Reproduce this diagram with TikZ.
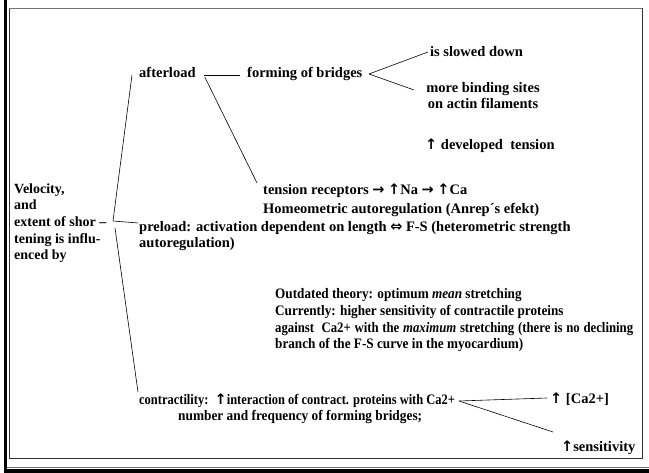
\documentclass[tikz,border=0pt]{standalone}
\usepackage{fontspec}
\setmainfont{Liberation Serif}
\newfontfamily\narrowserif[FakeStretch=0.91]{Liberation Serif}
\newfontfamily\narrowerserif[FakeStretch=0.88]{Liberation Serif}
\newfontfamily\contrserif[FakeStretch=0.86]{Liberation Serif}
\newfontfamily\semiserif[FakeStretch=0.92]{Liberation Serif}
\newfontfamily\symf{DejaVu Sans}
\newcommand{\up}{{\symf↑}}
\newcommand{\ra}{{\symf→}}
\begin{document}
\begin{tikzpicture}[x=1pt,y=-1pt,
  txt/.style={font=\bfseries\fontsize{14.5}{16.7}\selectfont, inner sep=0pt, anchor=base west, align=left},
  txtn/.style={txt, font=\narrowserif\bfseries\fontsize{14.5}{16.7}\selectfont},
  conn/.style={draw=black, line width=0.6pt}]
\useasboundingbox (0,0) rectangle (649,473);
% page frame
\fill[white] (0,0) rectangle (649,473);
\draw[line width=0.8pt, black!80] (9,459) -- (9,8.5);
\draw[line width=1.4pt, black!55] (9,8.5) -- (642,8.5);
\draw[line width=1pt, black!80] (642,8) -- (642,459) -- (9,459);
\fill[black] (4,0) rectangle (7,473);
\draw[line width=1pt, black!55] (7,467.5) -- (649,467.5);
\fill[black] (4,469.5) rectangle (649,473);

% root text (anchored at the baseline of its last line)
\node[txt, font=\bfseries\fontsize{14}{16.7}\selectfont] (root) at (14,260) {Velocity,\\and\\extent of shor \textendash\\tening is influ-\\enced by};
\coordinate (j) at (113,221);
\coordinate (jb) at (115,228);

% afterload branch
\node[txt] (after) at (139,78) {afterload};
\node[txt] (bridges) at (247,78) {forming of bridges};
\node[txt] (slow) at (430,57) {is slowed down};
\node[txt, align=center, anchor=base] (sites) at (483,109) {more binding sites\\on actin filaments};
\node[txt] (tension) at (425,150) {\up\ developed\ \ tension};
\node[txt] (recept) at (263,195) {tension receptors \ra\ \up Na \ra\ \up Ca};
\node[txt] (homeo) at (263,214) {Homeometric autoregulation (Anrep\textasciiacute s efekt)};

% preload branch
\node[txt] (pre) at (139,232) {preload: activation dependent on length {\symf\bfseries⇔} F-S (heterometric strength};
\node[txt] (pre2) at (139,248) {autoregulation)};
\node[txtn] (outd) at (275,349) {Outdated theory: optimum \textit{mean} stretching\\Currently: higher sensitivity of contractile proteins\\\hbox to 358pt{\narrowerserif against\ \ Ca2+ with the \textit{maximum} stretching (there is no declining}\\branch of the F-S curve in the myocardium)};

% contractility branch
\node[txt, font=\contrserif\bfseries\fontsize{14.5}{16.7}\selectfont] (contr) at (139,405) {contractility:\ \ \up interaction of contract. proteins with Ca2+};
\node[txt, font=\semiserif\bfseries\fontsize{14.5}{16.7}\selectfont] (numb) at (178,421) {number and frequency of forming bridges;};
\coordinate (v) at (459,401);
\node[txt] (ca) at (550,404) {\up\ [Ca2+]};
\node[txt] (sens) at (561,452) {\up sensitivity};

% connectors
\draw[conn] (j) -- ([shift={(-7,-3)}]after.base west);
\draw[conn] (j) -- ([shift={(-1,-9)}]pre.base west);
\draw[conn] (jb) -- ([shift={(-1,-13)}]contr.base west);
\draw[conn] ([shift={(8,-3)}]after.base east) -- ++(36,0);
\coordinate (fb) at (369,74);
\draw[conn] (fb) -- ([shift={(-2,-5)}]slow.base west);
\draw[conn] (fb) -- ([shift={(-12,-19)}]sites.base west);
\draw[conn] ([shift={(9,-1)}]after.base east) -- ([shift={(-6,-12)}]recept.base west);
\draw[conn] (v) -- ([shift={(-3,-6)}]ca.base west);
\draw[conn] (v) -- ([shift={(-8,-20)}]sens.base west);
\end{tikzpicture}
\end{document}
